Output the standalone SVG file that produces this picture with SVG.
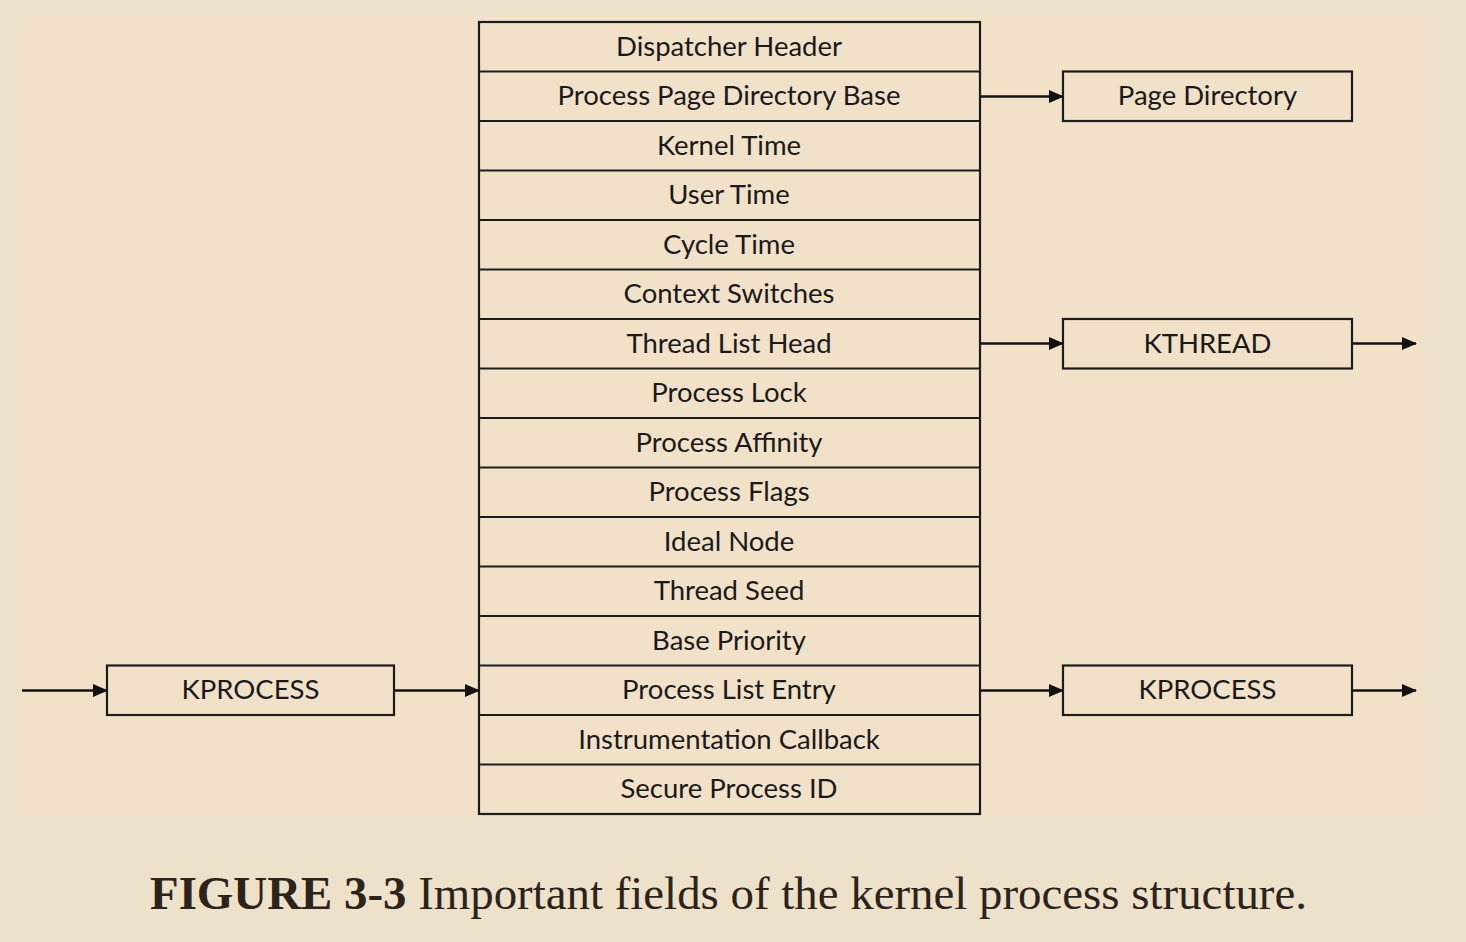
<svg xmlns="http://www.w3.org/2000/svg" width="1466" height="942" viewBox="0 0 1466 942">
<style>
.bg{fill:#ede1ca}
.panel{fill:#f1e1c8}
.box{fill:none;stroke:#1c1c1c;stroke-width:2.2}
.lbl{font-family:Lato,"Open Sans",sans-serif;font-size:27.5px;fill:#1a1a1a;text-anchor:middle}
.conn{stroke:#111;stroke-width:2.5;fill:none}
.cap{font-family:"Liberation Serif",serif;font-size:46px;fill:#2c241a}
</style>
<defs>
<marker id="ah" markerWidth="15" markerHeight="13" refX="14" refY="6.5" orient="auto" markerUnits="userSpaceOnUse">
<path d="M0,0 L15,6.5 L0,13 Z" fill="#111"/>
</marker>
</defs>
<rect class="bg" x="0" y="0" width="1466" height="942"/>
<rect class="panel" x="21" y="17" width="1401" height="799"/>

<g id="kprocess-table">
<rect class="box" x="479" y="22" width="501" height="792"/>
<path class="box" d="M479,71.5H980M479,121H980M479,170.5H980M479,220H980M479,269.5H980M479,319H980M479,368.5H980M479,418H980M479,467.5H980M479,517H980M479,566.5H980M479,616H980M479,665.5H980M479,715H980M479,764.5H980"/>
<text class="lbl" x="729" y="55.5">Dispatcher Header</text>
<text class="lbl" x="729" y="105">Process Page Directory Base</text>
<text class="lbl" x="729" y="154.5">Kernel Time</text>
<text class="lbl" x="729" y="204">User Time</text>
<text class="lbl" x="729" y="253.5">Cycle Time</text>
<text class="lbl" x="729" y="303">Context Switches</text>
<text class="lbl" x="729" y="352.5">Thread List Head</text>
<text class="lbl" x="729" y="402">Process Lock</text>
<text class="lbl" x="729" y="451.5">Process Affinity</text>
<text class="lbl" x="729" y="501">Process Flags</text>
<text class="lbl" x="729" y="550.5">Ideal Node</text>
<text class="lbl" x="729" y="600">Thread Seed</text>
<text class="lbl" x="729" y="649.5">Base Priority</text>
<text class="lbl" x="729" y="699">Process List Entry</text>
<text class="lbl" x="729" y="748.5">Instrumentation Callback</text>
<text class="lbl" x="729" y="798">Secure Process ID</text>
</g>

<g id="page-directory">
<rect class="box" x="1063" y="71.5" width="289" height="49.5"/>
<text class="lbl" x="1207.5" y="105">Page Directory</text>
</g>
<g id="kthread">
<rect class="box" x="1063" y="319" width="289" height="49.5"/>
<text class="lbl" x="1207.5" y="352.5">KTHREAD</text>
</g>
<g id="kprocess-next">
<rect class="box" x="1063" y="665.5" width="289" height="49.5"/>
<text class="lbl" x="1207.5" y="699">KPROCESS</text>
</g>
<g id="kprocess-prev">
<rect class="box" x="107" y="665.5" width="287" height="49.5"/>
<text class="lbl" x="250.5" y="699">KPROCESS</text>
</g>

<g id="connectors">
<line class="conn" x1="981" y1="96.5" x2="1063" y2="96.5" marker-end="url(#ah)"/>
<line class="conn" x1="981" y1="343.5" x2="1063" y2="343.5" marker-end="url(#ah)"/>
<line class="conn" x1="1353" y1="343.5" x2="1416" y2="343.5" marker-end="url(#ah)"/>
<line class="conn" x1="981" y1="690.5" x2="1063" y2="690.5" marker-end="url(#ah)"/>
<line class="conn" x1="1353" y1="690.5" x2="1416" y2="690.5" marker-end="url(#ah)"/>
<line class="conn" x1="22" y1="690.5" x2="107" y2="690.5" marker-end="url(#ah)"/>
<line class="conn" x1="395" y1="690.5" x2="479" y2="690.5" marker-end="url(#ah)"/>
</g>

<text class="cap" x="150" y="909" textLength="1157" lengthAdjust="spacingAndGlyphs"><tspan font-weight="bold">FIGURE 3-3</tspan> Important fields of the kernel process structure.</text>
</svg>
